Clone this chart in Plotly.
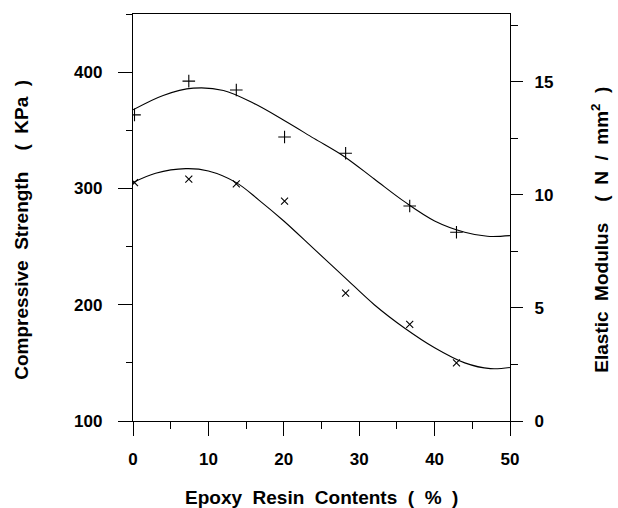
import plotly.graph_objects as go

# Epoxy resin content (%) for measured points
x_pts = [0.2, 7.4, 13.7, 20.1, 28.2, 36.7, 42.9]
# Compressive strength (KPa) – "x" markers, left axis
strength_pts = [305, 308, 304, 289, 210, 183, 150]
# Elastic modulus (N/mm2) – "+" markers, right axis
modulus_pts = [13.54, 15.03, 14.64, 12.56, 11.84, 9.51, 8.35]

# Fitted curves
fit_x_strength = [0, 3, 7, 10, 13.7, 16.7, 20, 24, 28, 32, 36, 40, 44, 47.4, 50]
fit_strength = [305, 313, 317, 315, 305, 290, 272, 248, 224, 200, 180, 163, 150, 145, 146]
fit_x_modulus = [0, 4, 8, 12, 16, 20, 24, 28, 32, 36, 40, 44, 47, 50]
fit_modulus = [13.76, 14.4, 14.72, 14.62, 14.05, 13.3, 12.5, 11.7, 10.7, 9.7, 8.85, 8.35, 8.17, 8.2]

x_ticks = [0, 10, 20, 30, 40, 50]
left_ticks = [100, 200, 300, 400]
right_ticks = [0, 5, 10, 15]

FONT = "Liberation Sans"

fig = go.Figure()
fig.add_trace(go.Scatter(x=fit_x_strength, y=fit_strength, mode="lines",
                         line=dict(color="black", width=1.1, shape="spline"),
                         yaxis="y", showlegend=False, hoverinfo="skip"))
fig.add_trace(go.Scatter(x=x_pts, y=strength_pts, mode="markers",
                         marker=dict(symbol="x-thin", size=7, color="black",
                                     line=dict(color="black", width=1.1)),
                         yaxis="y", showlegend=False))
fig.add_trace(go.Scatter(x=fit_x_modulus, y=fit_modulus, mode="lines",
                         line=dict(color="black", width=1.1, shape="spline"),
                         yaxis="y2", showlegend=False, hoverinfo="skip"))
fig.add_trace(go.Scatter(x=x_pts, y=modulus_pts, mode="markers",
                         marker=dict(symbol="cross-thin", size=9, color="black",
                                     line=dict(color="black", width=1.1)),
                         yaxis="y2", showlegend=False))

tickfont = dict(family=FONT, size=17, color="black", weight="bold")
titlefont = dict(family=FONT, size=19, color="black", weight="bold")

fig.update_layout(
    width=618, height=508,
    margin=dict(l=133, r=108, t=14, b=87),
    paper_bgcolor="white", plot_bgcolor="white",
    xaxis=dict(range=[0, 50], tickvals=x_ticks, ticks="outside", ticklen=14,
               tickwidth=1.3, tickcolor="black", showline=True, linecolor="black",
               linewidth=1.3, mirror=True, showgrid=False, zeroline=False,
               tickfont=tickfont, ticklabelstandoff=8,
               minor=dict(dtick=5, ticks="outside", ticklen=7, tickwidth=1,
                          tickcolor="black", showgrid=False)),
    yaxis=dict(range=[100, 450], tickvals=left_ticks, ticks="outside", ticklen=14,
               tickwidth=1.3, tickcolor="black", showline=True, linecolor="black",
               linewidth=1.3, showgrid=False, zeroline=False, tickfont=tickfont,
               ticklabelstandoff=12,
               minor=dict(dtick=50, ticks="outside", ticklen=6, tickwidth=1,
                          tickcolor="black", showgrid=False)),
    yaxis2=dict(range=[0, 18], tickvals=right_ticks, ticks="outside", ticklen=12,
                tickwidth=1.3, tickcolor="black", showline=True, linecolor="black",
                linewidth=1.3, showgrid=False, zeroline=False, tickfont=tickfont,
                overlaying="y", side="right", anchor="x", ticklabelstandoff=8,
                minor=dict(dtick=2.5, ticks="outside", ticklen=7, tickwidth=1,
                           tickcolor="black", showgrid=False)),
    annotations=[
        dict(text="Epoxy  Resin  Contents  (  %  )", xref="paper", yref="paper",
             x=0.5, y=-0.189, xanchor="center", yanchor="middle",
             showarrow=False, font=titlefont),
        dict(text="Compressive  Strength    (  KPa  )", xref="paper", yref="paper",
             x=(22 - 133) / 377, y=0.47, xanchor="center", yanchor="middle",
             textangle=-90, showarrow=False, font=titlefont),
        dict(text="Elastic  Modulus    (  N  /  mm<sup>2</sup>  )", xref="paper", yref="paper",
             x=(600 - 133) / 377, y=0.47, xanchor="center", yanchor="middle",
             textangle=-90, showarrow=False, font=titlefont),
    ],
)

fig.write_html("out.html", config={"displayModeBar": False},
               post_script="document.body.style.margin='0';document.body.style.overflow='hidden';")
